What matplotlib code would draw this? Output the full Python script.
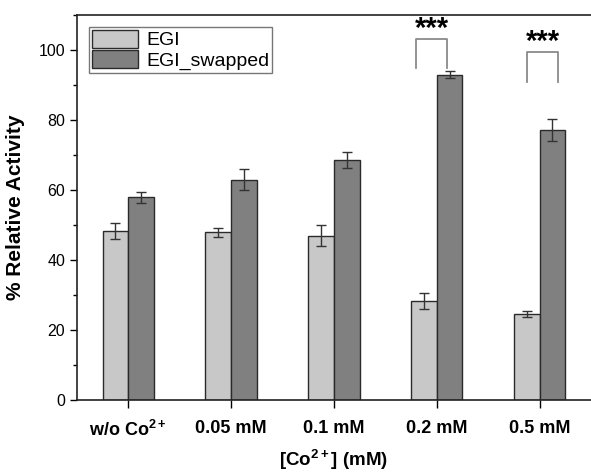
import matplotlib.pyplot as plt
import numpy as np
from matplotlib.ticker import MultipleLocator

plt.rcParams['font.family'] = ['Liberation Sans', 'DejaVu Sans']
plt.rcParams['mathtext.default'] = 'regular'

categories = ['w/o Co$^{2+}$', '0.05 mM', '0.1 mM', '0.2 mM', '0.5 mM']
egi = [48.3, 47.9, 47.0, 28.3, 24.6]
egi_err = [2.2, 1.3, 3.0, 2.2, 0.9]
swapped = [58.0, 62.9, 68.7, 93.0, 77.1]
swapped_err = [1.6, 3.0, 2.3, 1.0, 3.2]

# significance brackets: (group index, left leg, right leg, bracket top, leg bottom)
brackets = [(3, -0.2, 0.1, 103.1, 95.0), (4, -0.12, 0.18, 99.4, 91.0)]

fig = plt.figure(figsize=(5.91, 4.74), dpi=100)
ax = fig.add_axes([0.130, 0.156, 0.870, 0.812])

x = np.arange(len(categories))
w = 0.25
err_kw = dict(ecolor='#333333', elinewidth=1.0, capsize=3.5, capthick=1.0)
ax.bar(x - w / 2, egi, w, yerr=egi_err, color='#c8c8c8', edgecolor='#2a2a2a',
       linewidth=1.0, label='EGI', error_kw=err_kw)
ax.bar(x + w / 2, swapped, w, yerr=swapped_err, color='#808080', edgecolor='#2a2a2a',
       linewidth=1.0, label='EGI_swapped', error_kw=err_kw)

for i, dl, dr, top, low in brackets:
    xl, xr = i + dl, i + dr
    ax.plot([xl, xl, xr, xr], [low, top, top, low], color='#8a8a8a', lw=1.3)
    ax.text((xl + xr) / 2, top + 0.6, '***', ha='center', va='baseline',
            fontsize=21, fontweight='bold')

ax.set_xlim(-0.5, 4.5)
ax.set_ylim(0, 110)
ax.yaxis.set_major_locator(MultipleLocator(20))
ax.yaxis.set_minor_locator(MultipleLocator(10))
ax.set_xticks(x)
ax.set_xticklabels(categories, fontsize=13, fontweight='bold')
ax.tick_params(axis='y', labelsize=11.5, direction='out', length=5, width=1)
ax.tick_params(axis='y', which='minor', direction='out', length=3, width=1)
ax.tick_params(axis='x', direction='out', length=6, width=1, pad=8)
ax.spines['right'].set_visible(False)
for s in ['left', 'bottom', 'top']:
    ax.spines[s].set_linewidth(1.2)
    ax.spines[s].set_color('#222222')

ax.set_ylabel('% Relative Activity', fontsize=15, fontweight='bold', labelpad=10)
ax.set_xlabel('[Co$^{2+}$] (mM)', fontsize=13.5, fontweight='bold', labelpad=6)

leg = ax.legend(loc='upper left', bbox_to_anchor=(0.012, 0.985), fontsize=14,
                frameon=True, fancybox=False, edgecolor='#555555',
                handlelength=2.4, handleheight=1.05, borderpad=0.15,
                labelspacing=0.05, handletextpad=0.4, borderaxespad=0.3)
leg.get_frame().set_linewidth(1.0)

fig.savefig('out.png', dpi=100)
